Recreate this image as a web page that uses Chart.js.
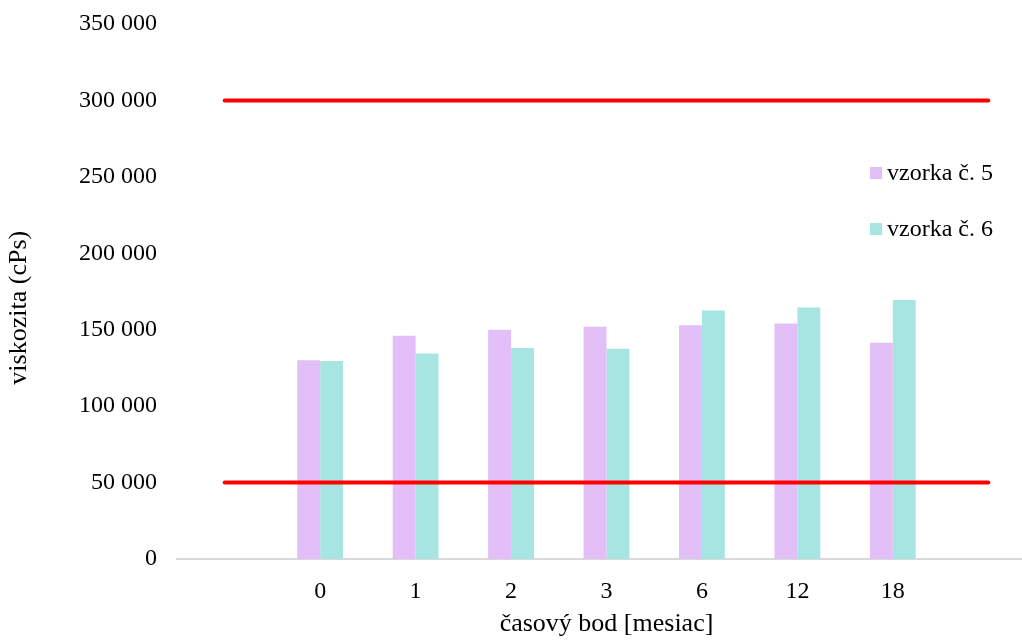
<!DOCTYPE html>
<html>
<head>
<meta charset="utf-8">
<script src="https://cdn.jsdelivr.net/npm/chart.js@4"></script>
<style>
    html, body { margin: 0; padding: 0; background: #fff; overflow: hidden; }
    #wrap { position: relative; width: 1022px; height: 640px; overflow: hidden; }
    #chart { position: absolute; left: 0; top: 0; }
    .legend-item { position: absolute; font-family: "Liberation Serif", "Times New Roman", serif; font-size: 24px; color: #000; white-space: nowrap; line-height: 26px; }
    .legend-item span { display: inline-block; width: 12px; height: 12px; margin-right: 5px; vertical-align: 1px; }
</style>
</head>
<body>
<div id="wrap">
    <canvas id="chart" width="1036" height="640"></canvas>
    <div id="legend"></div>
</div>
<script>
    // categories (empty slots at both ends carry the limit lines)
    var categories = ['', '0', '1', '2', '3', '6', '12', '18', ''];

    var sample5Label = 'vzorka č. 5';
    var sample5Values = [null, 130000, 146000, 150000, 152000, 153000, 154000, 141500, null];

    var sample6Label = 'vzorka č. 6';
    var sample6Values = [null, 129500, 134500, 138000, 137500, 162500, 164500, 169500, null];

    var upperLimit = [300000, 300000, 300000, 300000, 300000, 300000, 300000, 300000, 300000];
    var lowerLimit = [50000, 50000, 50000, 50000, 50000, 50000, 50000, 50000, 50000];

    var yTickLabels = ['0', '50 000', '100 000', '150 000', '200 000', '250 000', '300 000', '350 000'];

    var purple = '#E3BFF8';
    var teal = '#A6E5E2';
    var red = '#FF0000';
    var serif = '"Liberation Serif", "Times New Roman", serif';

    function lineDataset(values) {
        return {
            type: 'line',
            data: values,
            borderColor: red,
            borderWidth: 4,
            borderCapStyle: 'round',
            pointRadius: 0,
            fill: false,
            order: 0
        };
    }

    var ctx = document.getElementById('chart');
    new Chart(ctx, {
        type: 'bar',
        data: {
            labels: categories,
            datasets: [
                {
                    label: sample5Label,
                    data: sample5Values,
                    backgroundColor: purple,
                    barPercentage: 1,
                    categoryPercentage: 0.48,
                    order: 1
                },
                {
                    label: sample6Label,
                    data: sample6Values,
                    backgroundColor: teal,
                    barPercentage: 1,
                    categoryPercentage: 0.48,
                    order: 1
                },
                lineDataset(upperLimit),
                lineDataset(lowerLimit)
            ]
        },
        options: {
            responsive: false,
            animation: false,
            layout: { padding: { top: 24, right: 0, left: 0, bottom: 0 } },
            plugins: {
                legend: { display: false },
                tooltip: { enabled: false }
            },
            scales: {
                x: {
                    grid: { display: false, drawTicks: false },
                    border: { display: true, color: '#D9D9D9', width: 2 },
                    ticks: {
                        color: '#000',
                        font: { family: serif, size: 24 },
                        padding: 18,
                        autoSkip: false,
                        maxRotation: 0
                    },
                    title: {
                        display: true,
                        text: 'časový bod [mesiac]',
                        color: '#000',
                        font: { family: serif, size: 26 },
                        padding: { top: 0, bottom: 0 }
                    },
                    afterFit: function (scale) { scale.height = 81; }
                },
                y: {
                    min: 0,
                    max: 350000,
                    grid: { display: false, drawTicks: false },
                    border: { display: false },
                    ticks: {
                        stepSize: 50000,
                        color: '#000',
                        font: { family: serif, size: 24 },
                        padding: 20,
                        callback: function (value, index) {
                            return yTickLabels[index];
                        }
                    },
                    title: {
                        display: true,
                        // trailing spaces nudge the centred title down a little
                        text: 'viskozita (cPs)\u00a0\u00a0\u00a0\u00a0\u00a0',
                        color: '#000',
                        font: { family: serif, size: 26 },
                        padding: { top: 4, bottom: 0 }
                    },
                    afterFit: function (scale) {
                        scale.width = 177;
                        scale.paddingTop = 0;
                        scale.paddingBottom = 0;
                    }
                }
            }
        }
    });

    // legend inside the plot, on the right
    var legend = document.getElementById('legend');
    [[sample5Label, purple, 159], [sample6Label, teal, 215]].forEach(function (item) {
        var div = document.createElement('div');
        div.className = 'legend-item';
        div.style.left = '870px';
        div.style.top = item[2] + 'px';
        div.innerHTML = '<span style="background:' + item[1] + '"></span>' + item[0];
        legend.appendChild(div);
    });
</script>
</body>
</html>
